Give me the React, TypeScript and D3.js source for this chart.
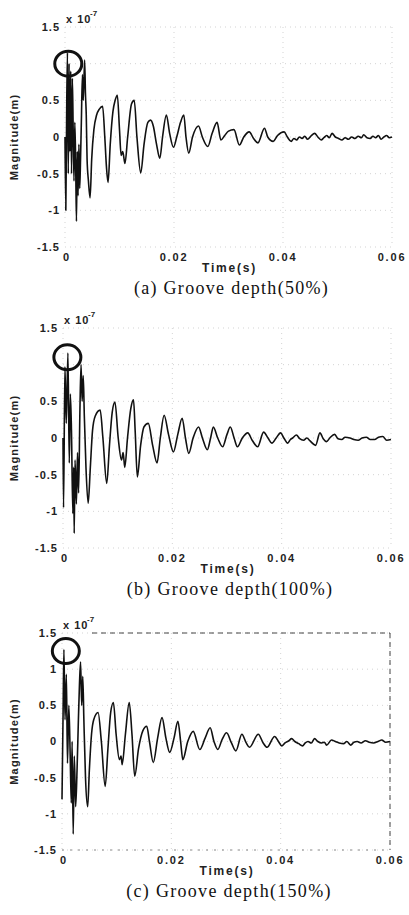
import React from "react";
import * as d3 from "d3";

// ---- DATA (time in ms, magnitude in 1e-7 m) ----
const seriesA: [number, number][] = [
  [0, 0], [0.15, -1.0], [0.3, 0.3], [0.45, 1.15], [0.6, -0.5], [0.75, 1.0], [0.9, -0.2], [1.05, 0.9],
  [1.2, -0.5], [1.35, 0.8], [1.5, 0.1], [1.65, -0.6], [1.8, 0.2], [1.95, -0.3], [2.1, -1.15], [2.25, -0.2],
  [2.4, -0.8], [2.55, -0.1], [2.7, -0.7], [2.85, -0.3], [3.0, 0.2], [3.2, 0.85], [3.35, 0.5], [3.6, 1.05],
  [3.75, 0.6], [3.9, 0.3], [4.05, -0.3], [4.3, -0.6], [4.6, -0.83], [4.9, -0.3], [5.3, 0.1], [5.8, 0.3],
  [6.3, 0.38], [6.9, 0.42], [7.3, 0.0], [7.6, -0.4], [7.9, -0.62], [8.3, -0.1], [8.8, 0.35], [9.2, 0.5],
  [9.6, 0.57], [10.0, 0.1], [10.3, -0.25], [10.6, -0.2], [11.0, -0.36], [11.5, 0.0], [12.2, 0.45],
  [12.7, 0.5], [13.2, 0.0], [13.9, -0.49], [14.5, -0.1], [15.2, 0.2], [15.7, 0.23], [16.2, 0.15],
  [16.8, -0.1], [17.4, -0.29], [17.9, 0.0], [18.6, 0.3], [19.2, 0.05], [19.9, -0.14], [20.5, 0.0],
  [21.2, 0.2], [21.8, 0.3], [22.2, 0.0], [22.7, -0.22], [23.4, 0.0], [24.5, 0.15], [25.2, 0.0],
  [26.2, -0.13], [27.0, 0.05], [27.9, 0.2], [28.6, -0.04], [29.3, 0.02], [30.0, 0.08], [31.0, 0.1],
  [32.0, -0.11], [32.8, 0.0], [33.8, 0.07], [34.6, -0.02], [35.4, -0.08], [36.6, 0.12], [37.2, 0.0],
  [38.2, -0.06], [39.0, 0.02], [40.2, 0.07], [40.8, 0.0], [41.5, -0.06], [42.0, -0.02], [42.5, -0.04],
  [43.0, 0.0], [43.5, -0.02], [44.0, 0.01], [44.5, -0.03], [45.2, 0.02], [45.8, 0.05], [46.4, 0.0],
  [47.0, -0.04], [47.5, -0.01], [48.0, 0.02], [48.5, -0.01], [49.0, 0.05], [49.6, 0.0], [50.2, -0.02],
  [50.8, -0.04], [51.4, -0.01], [52.0, -0.03], [52.6, 0.0], [53.2, -0.02], [53.8, 0.01], [54.4, -0.01],
  [54.8, 0.03], [55.4, -0.01], [56.0, -0.02], [56.5, 0.01], [57.0, -0.01], [57.5, 0.02], [58.0, -0.03],
  [58.5, 0.0], [59.0, 0.02], [59.5, -0.01], [60, 0.0],
];

const seriesB: [number, number][] = [
  [0, 0], [0.1, -0.95], [0.35, 0.97], [0.6, 0.2], [0.9, 1.16], [1.15, -0.34], [1.35, 0.6], [1.55, 0.1],
  [1.8, -1.03], [1.95, -0.4], [2.05, -1.3], [2.2, -0.3], [2.45, -0.9], [2.65, -0.2], [2.85, -0.75],
  [3.1, 0.4], [3.3, 1.0], [3.5, 0.5], [3.7, 0.85], [3.9, 0.3], [4.2, -0.4], [4.6, -0.89], [5.0, -0.4],
  [5.4, 0.1], [5.9, 0.3], [6.8, 0.38], [7.3, 0.0], [8.0, -0.62], [8.5, -0.1], [9.0, 0.35], [9.5, 0.49],
  [10.1, 0.0], [10.7, -0.3], [11.0, -0.2], [11.3, -0.4], [11.8, 0.0], [12.4, 0.4], [12.9, 0.52],
  [13.2, 0.1], [13.6, -0.53], [14.2, -0.1], [14.8, 0.15], [15.6, 0.2], [16.4, -0.1], [17.2, -0.34],
  [17.8, 0.0], [18.5, 0.31], [19.3, 0.05], [20.2, -0.19], [21.0, 0.05], [21.8, 0.27], [22.4, 0.0],
  [23.0, -0.21], [23.8, 0.0], [24.8, 0.15], [25.5, 0.0], [26.4, -0.16], [27.0, 0.0], [27.5, 0.15],
  [28.3, 0.0], [29.2, -0.12], [30.0, 0.05], [30.6, 0.15], [31.3, 0.0], [31.9, -0.12], [32.8, 0.0],
  [33.8, 0.07], [34.6, -0.03], [35.6, -0.12], [36.7, 0.08], [37.5, 0.0], [38.2, -0.07], [39.0, 0.0],
  [39.8, 0.07], [40.4, 0.0], [41.1, -0.07], [41.6, -0.02], [42.0, 0.0], [42.7, 0.04], [43.3, -0.01],
  [44.0, -0.03], [44.6, 0.0], [45.2, -0.04], [46.2, -0.1], [47.0, 0.07], [47.6, -0.01], [48.2, -0.05],
  [48.8, 0.0], [49.7, 0.05], [50.3, -0.01], [51.0, -0.02], [51.6, 0.01], [52.5, 0.0], [53.2, -0.02],
  [54.0, -0.03], [54.7, 0.0], [55.5, 0.01], [56.2, -0.02], [57.0, -0.02], [57.7, 0.01], [58.5, 0.02],
  [59.2, -0.03], [60, -0.02],
];

const seriesC: [number, number][] = [
  [0, -0.8], [0.2, 0.4], [0.35, 1.27], [0.55, 0.3], [0.8, 0.93], [1.0, -0.3], [1.25, 0.5], [1.5, -0.2],
  [1.7, -0.85], [1.85, 0.0], [2.05, -1.28], [2.25, -0.2], [2.5, -0.9], [2.75, -0.4], [3.0, 0.3],
  [3.2, 0.8], [3.4, 1.1], [3.6, 0.5], [3.8, 0.9], [4.0, 0.3], [4.3, -0.5], [4.7, -0.9], [5.0, -0.4],
  [5.4, 0.1], [5.8, 0.3], [6.6, 0.4], [7.2, 0.0], [7.9, -0.62], [8.4, -0.1], [8.9, 0.4], [9.4, 0.54],
  [9.9, 0.1], [10.5, -0.25], [10.8, -0.2], [11.0, -0.32], [11.6, 0.1], [12.3, 0.54], [12.8, 0.1],
  [13.3, -0.48], [14.0, -0.1], [14.8, 0.15], [15.5, 0.21], [16.0, 0.0], [16.7, -0.29], [17.5, 0.05],
  [18.3, 0.33], [19.0, 0.05], [19.7, -0.15], [20.5, 0.05], [21.2, 0.28], [21.7, 0.0], [22.1, -0.25],
  [23.0, 0.0], [24.0, 0.14], [25.2, -0.11], [26.2, 0.05], [27.1, 0.19], [27.8, 0.0], [28.5, -0.11],
  [29.3, 0.03], [30.1, 0.12], [31.0, -0.02], [31.8, -0.13], [32.9, 0.1], [33.7, -0.02], [34.3, -0.08],
  [35.9, 0.1], [36.8, -0.02], [37.5, -0.08], [38.9, 0.07], [39.6, 0.0], [40.2, -0.06], [40.8, -0.02],
  [41.5, 0.01], [42.0, 0.04], [42.6, 0.0], [43.3, -0.03], [44.0, -0.06], [44.5, -0.02], [45.0, 0.0],
  [45.6, -0.02], [46.2, 0.04], [46.8, 0.0], [47.5, -0.02], [48.0, -0.01], [48.4, -0.05], [49.3, 0.02],
  [50.0, 0.0], [50.7, -0.02], [51.5, -0.03], [52.1, 0.0], [52.8, -0.05], [53.4, -0.01], [54.0, 0.0],
  [54.7, -0.02], [55.5, 0.01], [56.2, -0.01], [57.0, -0.02], [57.8, 0.0], [58.5, 0.02], [59.2, -0.01],
  [60, 0.0],
];

// circled peak annotations [ms, value]
const circleA: [number, number] = [0.6, 1.0];
const circleB: [number, number] = [0.8, 1.1];
const circleC: [number, number] = [0.7, 1.25];

const yTicksAB = [1.5, 0.5, 0, -0.5, -1, -1.5];
const yTicksC = [1.5, 1, 0.5, 0, -0.5, -1, -1.5];
const yGrid = [1.5, 1, 0.5, 0, -0.5, -1, -1.5];
const xTicks = [0, 20, 40, 60];
const xTickLabels = ["0", "0.02", "0.04", "0.06"];
const captions = ["(a) Groove depth(50%)", "(b) Groove depth(100%)", "(c) Groove depth(150%)"];

const SANS = "'Liberation Sans', Arial, sans-serif";
const SERIF = "'Liberation Serif', 'Times New Roman', serif";

type PanelProps = {
  data: [number, number][];
  yTicks: number[];
  caption: string;
  circle: [number, number];
  x0: number; x1: number; y0: number; y1: number;
  dashedFrame: boolean;
};

function fmt(v: number) {
  return v === 0 ? "0" : String(v);
}

function Panel({ data, yTicks, caption, circle, x0, x1, y0, y1, dashedFrame }: PanelProps) {
  const x = d3.scaleLinear().domain([0, 60]).range([x0, x1]);
  const y = d3.scaleLinear().domain([-1.5, 1.5]).range([y1, y0]);
  const line = d3
    .line<[number, number]>()
    .x((d) => x(d[0]))
    .y((d) => y(d[1]))
    .curve(d3.curveMonotoneX);
  const cx = x(circle[0]);
  const cy = y(circle[1]);
  const midY = (y0 + y1) / 2;
  return (
    <g>
      {/* dotted grid */}
      {yGrid.map((v) => (
        <line key={"gy" + v} x1={x0} x2={x1} y1={y(v)} y2={y(v)} stroke="#c8c8c8" strokeWidth={0.8} strokeDasharray="1,4" />
      ))}
      {xTicks.map((t) => (
        <line key={"gx" + t} x1={x(t)} x2={x(t)} y1={y0} y2={y1} stroke="#c8c8c8" strokeWidth={0.8} strokeDasharray="1,4" />
      ))}
      {dashedFrame && (
        <g stroke="#444" strokeWidth={1} strokeDasharray="5,4" fill="none">
          <line x1={x0 + 30} x2={x1} y1={y0} y2={y0} />
          <line x1={x1} x2={x1} y1={y0} y2={y1} />
          <line x1={x0} x2={x1} y1={y1} y2={y1} stroke="#888" strokeDasharray="2,6" />
        </g>
      )}
      {/* signal */}
      <path d={line(data) || ""} fill="none" stroke="#111" strokeWidth={1.6} strokeLinejoin="round" />
      {/* circle annotation */}
      <ellipse cx={cx} cy={cy} rx={13.5} ry={12.5} fill="none" stroke="#111" strokeWidth={3} />
      {/* y tick labels */}
      {yTicks.map((v) => (
        <text key={"yt" + v} x={x0 - 5} y={y(v)} dy="0.36em" textAnchor="end" fontFamily={SANS} fontWeight="bold" fontSize={11} letterSpacing={1} fill="#222">
          {fmt(v)}
        </text>
      ))}
      {/* x tick labels */}
      {xTicks.map((t, i) => (
        <text key={"xt" + t} x={x(t) + (i === 0 ? 2 : 0)} y={y1 + 14} textAnchor="middle" fontFamily={SANS} fontWeight="bold" fontSize={11} letterSpacing={1.8} fill="#222">
          {xTickLabels[i]}
        </text>
      ))}
      {/* exponent */}
      <text x={x0 + 1} y={y0 - 4} fontFamily={SANS} fontWeight="bold" fontSize={11} letterSpacing={1} fill="#222">x 10</text>
      <text x={x0 + 25} y={y0 - 11} fontFamily={SANS} fontWeight="bold" fontSize={8} fill="#222">-7</text>
      {/* axis titles */}
      <text x={(x0 + x1) / 2 + 1} y={y1 + 25} textAnchor="middle" fontFamily={SANS} fontWeight="bold" fontSize={12} letterSpacing={1.8} fill="#222">
        Time(s)
      </text>
      <text transform={`translate(18,${midY}) rotate(-90)`} textAnchor="middle" fontFamily={SANS} fontWeight="bold" fontSize={11} letterSpacing={1.2} fill="#222">
        Magnitude(m)
      </text>
      {/* caption */}
      <text x={(x0 + x1) / 2 + 3} y={y1 + 47} textAnchor="middle" fontFamily={SERIF} fontSize={18} letterSpacing={1.3} fill="#111">
        {caption}
      </text>
    </g>
  );
}

export default function App() {
  return (
    <svg width={409} height={915} style={{ position: "absolute", left: 0, top: 0, background: "#fff" }}>
      <rect width={409} height={915} fill="#fff" />
      <Panel data={seriesA} yTicks={yTicksAB} caption={captions[0]} circle={circleA} x0={65} x1={392} y0={27} y1={247} dashedFrame={false} />
      <Panel data={seriesB} yTicks={yTicksAB} caption={captions[1]} circle={circleB} x0={63} x1={391} y0={328} y1={548} dashedFrame={false} />
      <Panel data={seriesC} yTicks={yTicksC} caption={captions[2]} circle={circleC} x0={62} x1={390} y0={633} y1={850} dashedFrame={true} />
    </svg>
  );
}
